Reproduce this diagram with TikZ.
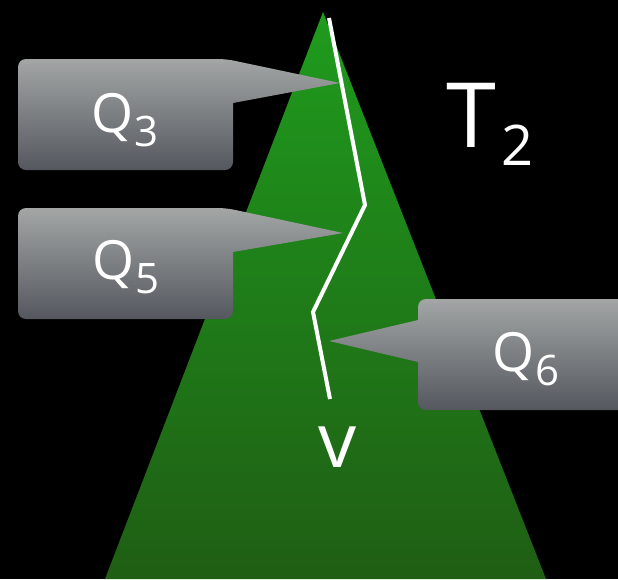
\documentclass[tikz,border=0pt]{standalone}
\usepackage{fontspec}
\setmainfont{Open Sans}
\definecolor{gtop}{RGB}{31,155,29}
\definecolor{gbot}{RGB}{31,94,20}
\definecolor{btop}{RGB}{163,166,165}
\definecolor{bbot}{RGB}{84,87,94}
\newcommand{\subx}[1]{\raisebox{-0.25em}{\fontsize{42}{42}\selectfont #1}}
\tikzset{
  callout/.style={top color=btop, bottom color=bbot},
  lbl/.style={text=white, inner sep=0pt, font=\fontsize{54}{54}\selectfont},
}
\begin{document}
\begin{tikzpicture}[x=1pt,y=-1pt]
\fill[black] (0,0) rectangle (618,579);
\useasboundingbox (0,0) rectangle (618,579);
\shade[top color=gtop, bottom color=gbot] (323,12) -- (546,579) -- (105,579) -- cycle;
\draw[white, line width=4pt] (329,18) -- (365,205) -- (313,312) -- (330,399);
% Q3
\shade[callout] (18,114) [rounded corners=8pt] -- (18,59) -- (226,59) [sharp corners] -- (340,83) -- (233,103) [rounded corners=8pt] -- (233,170) -- (18,170) [sharp corners] -- cycle;
% Q5
\shade[callout] (18,264) [rounded corners=8pt] -- (18,208) -- (226,208) [sharp corners] -- (343,233) -- (233,252) [rounded corners=8pt] -- (233,319) -- (18,319) [sharp corners] -- cycle;
% Q6
\shade[callout] (630,299) [rounded corners=8pt] -- (418,299) [sharp corners] -- (418,320) -- (329,341) -- (418,362) [rounded corners=8pt] -- (418,410) -- (630,410) -- cycle;
\node[lbl] (q3) at (125,120) {Q\subx{3}};
\node[lbl] (q5) at (126,267) {Q\subx{5}};
\node[lbl] (q6) at (526,359) {Q\subx{6}};
\node[text=white, inner sep=0pt, font=\fontsize{90}{90}\selectfont] (t2) at (490,124) {T\hspace{6pt}\raisebox{-0.2em}{\fontsize{56}{56}\selectfont 2}};
\node[text=white, inner sep=0pt, font=\fontsize{76}{76}\selectfont] (v) at (338,447) {v};
\end{tikzpicture}
\end{document}
